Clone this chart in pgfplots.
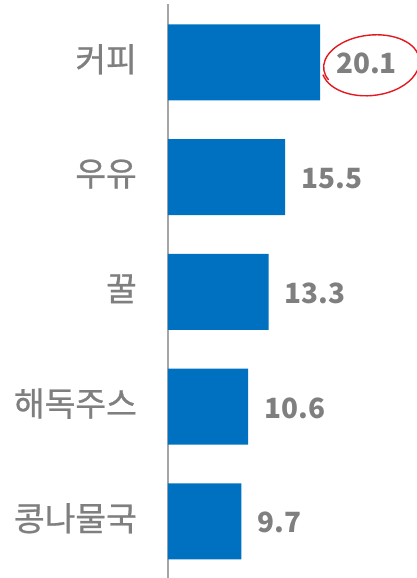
\documentclass[border=0pt]{standalone}
\usepackage{pgfplots}
\pgfplotsset{compat=1.18}
\usepackage{fontspec}
\setmainfont{Noto Sans CJK KR}
\newfontfamily\catfont[FakeBold=0.8]{Noto Sans CJK KR}
\definecolor{barblue}{HTML}{0070C0}
\definecolor{txtgray}{HTML}{7F7F7F}
\definecolor{axgray}{HTML}{A6A6A6}
\definecolor{circred}{HTML}{E3191F}
\begin{document}
\begin{tikzpicture}
\useasboundingbox (-168bp,0) rectangle (249bp,578bp);
\begin{axis}[
  at={(0,0)}, anchor=south west,
  scale only axis, width=226.9bp, height=574bp,
  xmin=0, xmax=30, ymin=-0.494, ymax=4.508,
  xbar, bar width=76bp,
  axis x line=none,
  axis y line=left,
  y axis line style={-, draw=axgray, line width=1.2pt},
  ytick={0,1,2,3,4},
  yticklabels={콩나물국,해독주스,꿀,우유,커피},
  major tick length=0pt,
  yticklabel style={anchor=east, inner sep=0pt, xshift=-31bp, yshift=3bp, text=txtgray,
    font=\catfont\fontsize{33.5}{34}\selectfont},
  nodes near coords,
  /pgf/number format/fixed, /pgf/number format/precision=1,
  /pgf/number format/assume math mode=true,
  every node near coord/.append style={anchor=west, inner sep=0pt,
    xshift=16bp, yshift=-1.5bp, text=txtgray,
    font=\bfseries\fontsize{28}{28}\selectfont},
  clip=false,
]
\addplot[fill=barblue, draw=none] coordinates {
  (9.7,0) (10.6,1) (13.3,2) (15.5,3) (20.1,4)};
\end{axis}
\draw[circred, line width=1.4pt, line cap=round, rotate around={6:(202bp,516bp)}]
  (154bp,508bp) arc[start angle=190, end angle=372, x radius=49bp, y radius=31bp]
  arc[start angle=372, end angle=562, x radius=48bp, y radius=29bp];
\end{tikzpicture}
\end{document}
